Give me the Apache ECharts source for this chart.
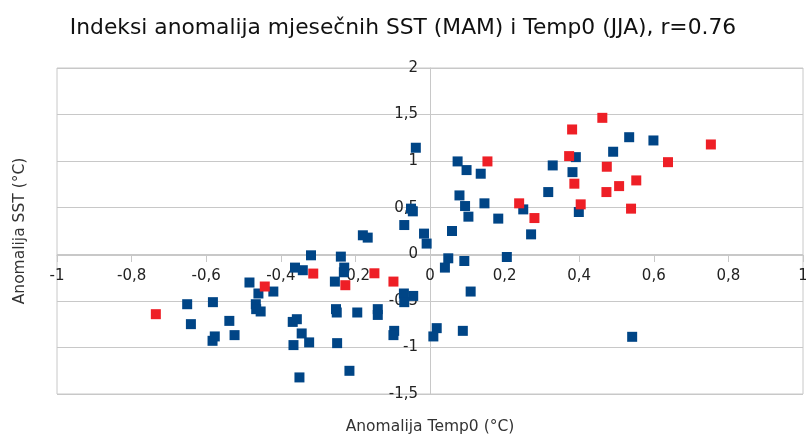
<!DOCTYPE html>
<html>
<head>
<meta charset="utf-8">
<script src="https://cdn.jsdelivr.net/npm/echarts@6/dist/echarts.min.js"></script>
<style>
  html, body { margin: 0; padding: 0; background: #fff; }
  #chart { width: 806px; height: 438px; }
</style>
</head>
<body>
<div id="chart"></div>
<script>
  // anomalije Temp0 (JJA) i SST (MAM) - plave tocke
  const blueX = [-0.651, -0.641, -0.582, -0.583, -0.577, -0.538, -0.524, -0.484, -0.467, -0.466,
    -0.454, -0.460, -0.420, -0.368, -0.357, -0.366, -0.362, -0.350, -0.344, -0.341,
    -0.324, -0.319, -0.255, -0.252, -0.250, -0.249, -0.239, -0.230, -0.231, -0.216,
    -0.195, -0.180, -0.167, -0.140, -0.140, -0.096, -0.098, -0.070, -0.045, -0.069,
    -0.069, -0.051, -0.046, -0.038, -0.016, -0.009, 0.009, 0.018, 0.040, 0.049,
    0.059, 0.074, 0.079, 0.088, 0.092, 0.094, 0.098, 0.103, 0.109, 0.136,
    0.146, 0.183, 0.206, 0.250, 0.271, 0.317, 0.329, 0.382, 0.391, 0.399,
    0.491, 0.534, 0.542, 0.599];
  const blueY = [-0.536, -0.750, -0.514, -0.929, -0.882, -0.715, -0.868, -0.303, -0.536, -0.589,
    -0.614, -0.421, -0.400, -0.726, -0.697, -0.975, -0.143, -1.322, -0.850, -0.171,
    -0.946, -0.011, -0.293, -0.589, -0.625, -0.954, -0.025, -0.143, -0.193, -1.251,
    -0.625, 0.204, 0.179, -0.589, -0.651, -0.822, -0.868, -0.421, -0.447, -0.514,
    0.314, 0.490, 0.461, 1.144, 0.222, 0.115, -0.882, -0.793, -0.143, -0.043,
    0.250, 0.997, 0.632, -0.822, -0.072, 0.518, 0.904, 0.404, -0.400, 0.865,
    0.547, 0.383, -0.029, 0.482, 0.214, 0.668, 0.954, 0.882, 1.043, 0.454,
    1.101, 1.257, -0.886, 1.222];

  // crvene tocke
  const redX = [-0.735, -0.443, -0.313, -0.227, -0.149, -0.098, 0.154, 0.239, 0.280, 0.462,
    0.381, 0.373, 0.474, 0.638, 0.387, 0.553, 0.507, 0.473, 0.404, 0.539, 0.753];
  const redY = [-0.643, -0.346, -0.207, -0.332, -0.204, -0.293, 0.997, 0.547, 0.389, 1.465,
    1.340, 1.054, 0.940, 0.989, 0.758, 0.793, 0.732, 0.668, 0.536, 0.490, 1.179];

  const xTicks = [-1, -0.8, -0.6, -0.4, -0.2, 0, 0.2, 0.4, 0.6, 0.8, 1];
  const yTicks = [-1.5, -1, -0.5, 0, 0.5, 1, 1.5, 2];

  const fmt = v => String(Math.round(v * 10) / 10).replace('.', ',');
  const pairs = (xs, ys) => xs.map((x, i) => [x, ys[i]]);

  const font = 'DejaVu Sans';
  const chart = echarts.init(document.getElementById('chart'));
  chart.setOption({
    animation: false,
    title: {
      text: 'Indeksi anomalija mjesečnih SST (MAM) i Temp0 (JJA), r=0.76',
      left: 'center',
      top: 12,
      textStyle: { fontFamily: font, fontSize: 21.8, fontWeight: 'normal', color: '#111' }
    },
    grid: {
      left: 57, right: 3, top: 68, bottom: 44,
      containLabel: false,
      outerBoundsMode: 'none',
      show: true, borderColor: '#c8c8c8', borderWidth: 1
    },
    xAxis: {
      type: 'value',
      min: xTicks[0], max: xTicks[xTicks.length - 1], interval: 0.2,
      position: 'bottom',
      offset: -139,   // os na y=0
      name: 'Anomalija Temp0 (°C)',
      nameLocation: 'middle',
      nameGap: 164,
      nameTextStyle: { fontFamily: font, fontSize: 15.5, color: '#333' },
      axisLine: { onZero: false, lineStyle: { color: '#c8c8c8' } },
      axisTick: { show: true, length: 7, lineStyle: { color: '#c8c8c8' } },
      axisLabel: { fontFamily: font, fontSize: 15, color: '#222', margin: 14, formatter: fmt },
      splitLine: { show: false }
    },
    yAxis: {
      type: 'value',
      min: yTicks[0], max: yTicks[yTicks.length - 1], interval: 0.5,
      position: 'left',
      offset: -373,   // os na x=0
      name: 'Anomalija SST (°C)',
      nameLocation: 'middle',
      nameRotate: 90,
      nameGap: 402,
      nameTextStyle: { fontFamily: font, fontSize: 15.5, color: '#333' },
      axisLine: { show: true, onZero: false, lineStyle: { color: '#c8c8c8' } },
      axisTick: { show: false },
      axisLabel: { fontFamily: font, fontSize: 15, color: '#222', margin: 12, formatter: fmt },
      splitLine: { show: true, lineStyle: { color: '#c8c8c8' } }
    },
    series: [
      {
        type: 'scatter',
        symbol: 'rect',
        symbolSize: 10,
        itemStyle: { color: '#004586', opacity: 1 },
        data: pairs(blueX, blueY)
      },
      {
        type: 'scatter',
        symbol: 'rect',
        symbolSize: 10,
        itemStyle: { color: '#ee1f26', opacity: 1 },
        data: pairs(redX, redY)
      }
    ]
  });
</script>
</body>
</html>
